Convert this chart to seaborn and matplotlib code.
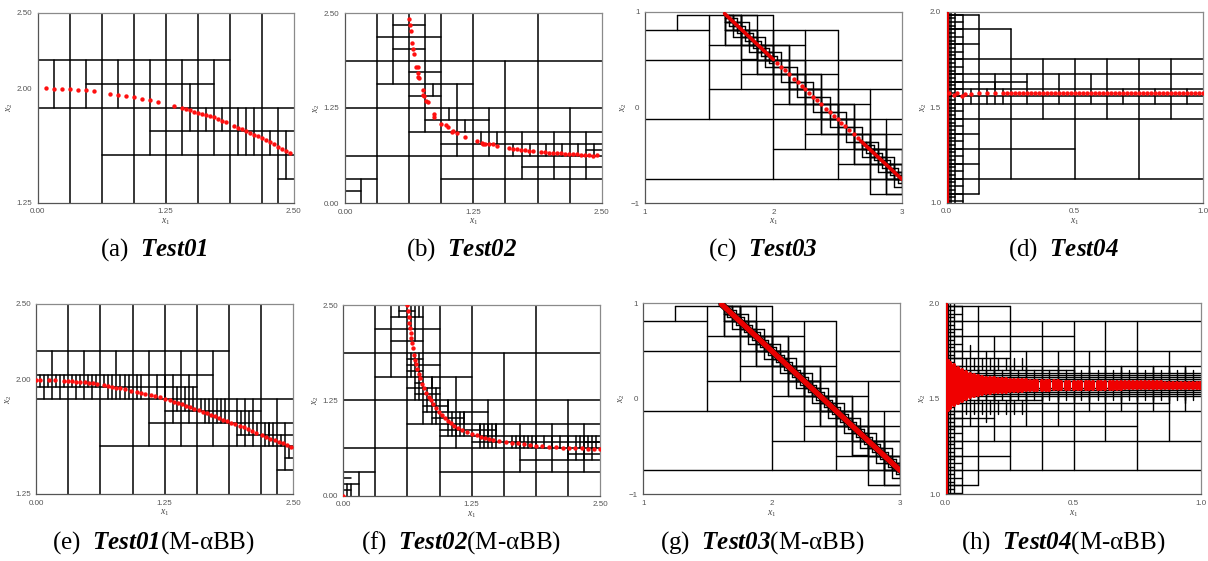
#!/usr/bin/env python3

import pandas as pd
import matplotlib.pyplot as plt
import seaborn as sns

# --- box edges and solution points ---
# hlines: (y, x0, x1), vlines: (x, y0, y1), rows: (y0, y1, [x, ...])

A_HLINES = [(2.1875, 0, 1.875), (2.03125, 0.469, 1.719), (1.875, 0, 2.5), (1.71875, 1.094, 2.5),
            (1.5625, 0.625, 2.5), (1.40625, 2.344, 2.5)]
A_VLINES = [(0.3125, 1.25, 2.5), (0.625, 1.25, 2.5), (0.9375, 1.25, 2.5), (1.25, 1.25, 2.5),
            (1.5625, 1.25, 2.5), (1.875, 1.25, 2.5), (2.1875, 1.25, 2.5), (2.344, 1.25, 1.875),
            (1.094, 1.5625, 2.1875), (1.406, 1.5625, 2.1875), (1.719, 1.5625, 2.1875),
            (1.484, 1.719, 2.031), (2.422, 1.406, 1.719)]
A_ROWS = [(1.875, 2.1875, [0.156, 0.469, 0.781]),
          (1.719, 1.875, [1.641, 1.797]),
          (1.5625, 1.875, [1.953, 2.031, 2.109]),
          (1.5625, 1.719, [2.266])]
A_X = [0.08, 0.156, 0.234, 0.3125, 0.39, 0.469, 0.55, 0.703, 0.781, 0.859, 0.9375, 1.016, 1.094, 1.172,
       1.328, 1.406, 1.445, 1.484, 1.523, 1.5625, 1.60, 1.64, 1.68, 1.719, 1.758, 1.797, 1.836, 1.914,
       1.953, 1.992, 2.03, 2.07, 2.11, 2.148, 2.1875, 2.227, 2.266, 2.305, 2.344, 2.383, 2.42, 2.46]
A_Y = [2.002, 2.0, 2.0, 1.996, 1.993, 1.989, 1.982, 1.967, 1.96, 1.954, 1.943, 1.934, 1.923, 1.914,
       1.886, 1.875, 1.866, 1.857, 1.849, 1.842, 1.836, 1.827, 1.818, 1.811, 1.80, 1.79, 1.778, 1.757,
       1.743, 1.732, 1.721, 1.71, 1.697, 1.686, 1.673, 1.66, 1.647, 1.634, 1.618, 1.605, 1.592, 1.577]

B_HLINES = [(2.1875, 0.3125, 0.9375), (2.344, 0.469, 0.781), (2.031, 0.469, 0.781), (1.875, 0, 2.5),
            (1.719, 0.625, 0.9375), (1.5625, 0.3125, 1.25), (1.406, 0.625, 0.9375), (1.25, 0, 2.5),
            (1.094, 0.781, 1.406), (0.9375, 0.625, 2.5), (0.781, 0.9375, 2.5), (0.703, 2.344, 2.5),
            (0.625, 0, 2.5), (0.469, 1.719, 2.5), (0.3125, 0, 0.3125), (0.3125, 0.9375, 2.5),
            (0.156, 0, 0.156)]
B_VLINES = [(0.156, 0, 0.3125), (0.3125, 0, 2.5), (0.469, 1.5625, 2.5), (0.625, 0, 2.5),
            (0.781, 0.9375, 2.5), (0.9375, 0, 2.5), (1.094, 0.625, 1.5625), (1.25, 0, 2.5),
            (1.172, 0.9375, 1.094), (1.016, 1.094, 1.25), (0.859, 1.406, 1.5625), (1.406, 0.625, 1.25),
            (1.328, 0.781, 0.9375), (1.484, 0.781, 0.9375), (1.5625, 0, 1.875), (1.719, 0.3125, 0.9375),
            (1.875, 0, 2.5), (2.031, 0.3125, 0.9375), (2.1875, 0, 1.25), (2.344, 0.3125, 0.9375)]
B_ROWS = [(0.625, 0.781, [1.641, 1.797, 1.953, 2.109, 2.266, 2.422])]
B_X = [0.623, 0.633, 0.64, 0.656, 0.666, 0.669, 0.695, 0.708, 0.708, 0.711, 0.721, 0.757, 0.763, 0.773,
       0.786, 0.805, 0.87, 0.87, 0.938, 0.981, 1.003, 1.046, 1.055, 1.091, 1.172, 1.289, 1.331, 1.341,
       1.364, 1.403, 1.442, 1.481, 1.601, 1.64, 1.679, 1.718, 1.757, 1.796, 1.835, 1.912, 1.951, 1.99,
       2.029, 2.068, 2.107, 2.146, 2.185, 2.224, 2.263, 2.302, 2.341, 2.38, 2.419, 2.458]
B_Y = [2.42, 2.347, 2.268, 2.11, 2.032, 1.958, 1.792, 1.792, 1.717, 1.656, 1.639, 1.481, 1.42, 1.412,
       1.337, 1.324, 1.171, 1.132, 1.04, 1.023, 1.001, 0.935, 0.948, 0.926, 0.865, 0.822, 0.795, 0.778,
       0.782, 0.778, 0.778, 0.752, 0.725, 0.717, 0.708, 0.699, 0.695, 0.69, 0.682, 0.677, 0.669, 0.664,
       0.66, 0.656, 0.656, 0.647, 0.647, 0.642, 0.642, 0.638, 0.634, 0.629, 0.625, 0.629]

# large boxes shared by Test03 panels
C_HLINES = [(0.969, 1.25, 2), (0.8125, 1, 1.5), (0.8125, 2, 2.5), (0.5, 1, 3), (0.1875, 1.5, 3),
            (-0.125, 1, 3), (-0.4375, 2, 2.5), (-0.4375, 2.75, 3), (-0.75, 1, 3), (-0.906, 2.75, 3),
            (0.656, 1.5, 1.75), (0.344, 1.75, 2), (0.031, 2, 2.25), (-0.281, 2.25, 2.5), (-0.594, 2.5, 2.75),
            (0.656, 2, 2.25), (0.344, 2.25, 2.5), (0.031, 2.5, 2.75), (-0.281, 2.75, 3)]
C_VLINES = [(1.25, 0.8125, 0.969), (1.5, -0.125, 0.969), (2, -0.75, 0.969), (1.75, 0.1875, 0.969),
            (2.25, -0.4375, 0.8125), (2.5, -0.75, 0.8125), (2.75, -0.906, 0.1875), (2.875, -0.906, -0.125),
            (1.625, 0.656, 0.969), (1.875, 0.344, 0.656), (2.125, 0.031, 0.344), (2.375, -0.281, 0.031),
            (2.625, -0.594, -0.281), (2.125, 0.5, 0.656), (2.375, 0.1875, 0.344), (2.625, -0.125, 0.031)]
STAIR1_X = [1.625, 1.75, 1.875, 2, 2.125, 2.25, 2.375, 2.5, 2.625, 2.75, 2.875]
STAIR1_Y = [0.969, 0.813, 0.656, 0.5, 0.344, 0.188, 0.031, -0.125, -0.281, -0.438, -0.594]
STAIR2_X = [1.625, 1.6875, 1.75, 1.8125, 1.875, 1.9375, 2, 2.0625, 2.125, 2.1875, 2.25, 2.3125, 2.375,
            2.4375, 2.5, 2.5625, 2.625, 2.6875, 2.75, 2.8125, 2.875, 2.9375]
STAIR2_Y = [0.969, 0.891, 0.813, 0.734, 0.656, 0.578, 0.5, 0.422, 0.344, 0.266, 0.188, 0.109, 0.031,
            -0.047, -0.125, -0.203, -0.281, -0.359, -0.438, -0.516, -0.594, -0.672]
STAIR3_X = [1.625, 1.656, 1.688, 1.719, 1.75, 1.781, 1.813, 1.844, 1.875, 1.906, 1.938, 1.969, 2, 2.031,
            2.063, 2.094, 2.125, 2.156, 2.188, 2.219, 2.25, 2.281, 2.313, 2.344, 2.375, 2.406, 2.438,
            2.469, 2.5, 2.531, 2.563, 2.594, 2.625, 2.656, 2.688, 2.719, 2.75, 2.781, 2.813, 2.844,
            2.875, 2.906, 2.938, 2.969]
STAIR3_Y = [0.969, 0.93, 0.891, 0.852, 0.813, 0.773, 0.734, 0.695, 0.656, 0.617, 0.578, 0.539, 0.5, 0.461,
            0.422, 0.383, 0.344, 0.305, 0.266, 0.227, 0.188, 0.148, 0.109, 0.07, 0.031, -0.008, -0.047,
            -0.086, -0.125, -0.164, -0.203, -0.242, -0.281, -0.32, -0.359, -0.398, -0.438, -0.477,
            -0.516, -0.555, -0.594, -0.633, -0.672, -0.711]
C_X = [2.03, 2.06, 2.09, 2.125, 2.16, 2.19, 2.22, 2.25, 2.28, 2.31, 2.34, 2.375, 2.41, 2.44, 2.47, 2.5,
       2.53, 2.56, 2.59, 2.625, 2.66]
C_Y = [0.4625, 0.425, 0.3875, 0.344, 0.3, 0.2625, 0.225, 0.1875, 0.15, 0.1125, 0.075, 0.031, -0.0125,
       -0.05, -0.0875, -0.125, -0.1625, -0.2, -0.2375, -0.281, -0.325]
C_LINE1_X = [1.62, 2.0]
C_LINE1_Y = [0.98, 0.5]
C_LINE2_X = [2.68, 3.0]
C_LINE2_Y = [-0.35, -0.75]
G_LINE_X = [1.61, 3.0]
G_LINE_Y = [0.99, -0.75]

# thin rows hugging x1 = 0 in the Test04 panels
NARROW_Y1 = [1.008, 1.047, 1.086, 1.125, 1.164, 1.203, 1.242, 1.281, 1.32, 1.359, 1.398, 1.4375, 1.477,
             1.516, 1.555, 1.594, 1.633, 1.672, 1.711, 1.75, 1.789, 1.828, 1.867, 1.906, 1.945, 1.984]
NARROW_Y2 = [1.027, 1.066, 1.105, 1.145, 1.184, 1.223, 1.262, 1.301, 1.34, 1.379, 1.418, 1.457, 1.496,
             1.535, 1.574, 1.613, 1.652, 1.691, 1.73, 1.77, 1.809, 1.848, 1.887, 1.926, 1.965]

D_HLINES = [(1.984, 0, 0.125), (1.906, 0, 0.25), (1.828, 0, 0.125), (1.75, 0, 1), (1.672, 0, 1),
            (1.633, 0, 0.3125), (1.594, 0, 1), (1.555, 0, 1), (1.516, 0, 1), (1.4375, 0, 1),
            (1.359, 0, 0.125), (1.281, 0, 0.5), (1.203, 0, 0.125), (1.125, 0, 1), (1.047, 0, 0.125)]
D_VLINES = [(0.125, 1.047, 1.984), (0.25, 1.125, 1.906), (0.5, 1.125, 1.75), (0.75, 1.125, 1.75),
            (0.375, 1.4375, 1.75), (0.625, 1.4375, 1.75), (0.875, 1.4375, 1.75), (0.0625, 1, 1.984),
            (0.031, 1, 2), (0.016, 1, 2), (0.008, 1, 2)]
D_ROWS = [(1.516, 1.672, [0.1875, 0.3125, 0.4375, 0.5625]),
          (1.516, 1.594, [0.6875, 0.8125, 0.9375, 0.094, 0.156, 0.219]),
          (1.594, 1.633, [0.1875])]
D_X = [0.01, 0.03, 0.04, 0.06, 0.07, 0.095, 0.125, 0.156, 0.188, 0.22, 0.234, 0.25, 0.266, 0.281, 0.297,
       0.3125, 0.328, 0.344, 0.359, 0.375, 0.391, 0.406, 0.422, 0.4375, 0.453, 0.469, 0.484, 0.5, 0.516,
       0.531, 0.547, 0.5625, 0.578, 0.594, 0.609, 0.625, 0.641, 0.656, 0.672, 0.6875, 0.703, 0.719, 0.734,
       0.75, 0.766, 0.781, 0.797, 0.8125, 0.828, 0.844, 0.859, 0.875, 0.891, 0.906, 0.922, 0.9375, 0.953,
       0.969, 0.984, 1.0]
D_Y = [1.571, 1.562, 1.571, 1.559, 1.57, 1.57] + [1.571] * 54
EDGE_X = [0.004, 0.004]
EDGE_Y = [1.0, 2.0]

E_HLINES = [(2.1875, 0, 1.875), (2.03125, 0, 1.719), (1.953, 0, 1.5625), (1.875, 0, 2.5), (1.797, 1.25, 2.1875),
            (1.71875, 1.094, 2.5), (1.64, 1.953, 2.5), (1.5625, 0.625, 2.5), (1.484, 2.422, 2.5),
            (1.406, 2.344, 2.5)]
E_VLINES = [(0.3125, 1.25, 2.5), (0.625, 1.25, 2.5), (0.9375, 1.25, 2.5), (1.25, 1.25, 2.5),
            (1.5625, 1.25, 2.5), (1.875, 1.25, 2.5), (2.1875, 1.25, 2.5), (2.344, 1.25, 1.875),
            (0.156, 1.875, 2.1875), (0.469, 1.875, 2.1875), (0.781, 1.875, 2.1875),
            (1.094, 1.5625, 2.1875), (1.406, 1.5625, 2.1875), (1.719, 1.5625, 2.1875),
            (2.422, 1.406, 1.719), (2.461, 1.484, 1.5625)]
E_ROWS = [(1.953, 2.031, [0.039, 0.078, 0.117, 0.195, 0.234, 0.273, 0.352, 0.391, 0.43, 0.508, 0.547, 0.586,
                          0.664, 0.703, 0.742, 0.82, 0.859, 0.898, 0.977, 1.016, 1.172, 1.25, 1.328, 1.484]),
          (1.875, 1.953, [0.078, 0.234, 0.391, 0.547, 0.703, 0.742, 0.82, 0.859, 0.898, 0.977, 1.016, 1.172,
                          1.25, 1.328, 1.367, 1.445, 1.484, 1.523]),
          (1.797, 1.875, [1.328, 1.367, 1.445, 1.484, 1.523, 1.602, 1.641, 1.68, 1.758, 1.797, 1.836, 1.953,
                          2.031, 2.109]),
          (1.719, 1.797, [1.328, 1.484, 1.641, 1.68, 1.758, 1.797, 1.836, 1.953, 1.992, 2.031, 2.07, 2.109]),
          (1.5625, 1.719, [1.953, 2.031, 2.109, 2.266]),
          (1.64, 1.719, [1.992, 2.07, 2.148, 2.227, 2.266, 2.305]),
          (1.5625, 1.64, [2.227, 2.305, 2.383])]
E_X = [0, 0.04, 0.12, 0.18, 0.27, 0.31, 0.35, 0.39, 0.43, 0.47, 0.51, 0.55, 0.59, 0.66, 0.70, 0.74, 0.78, 0.82,
       0.86, 0.92, 0.98, 1.02, 1.06, 1.12, 1.16, 1.2, 1.25, 1.3, 1.34, 1.38, 1.42, 1.46, 1.5, 1.54, 1.58, 1.62,
       1.66, 1.7, 1.74, 1.78, 1.82, 1.86, 1.9, 1.94, 1.98, 2.02, 2.06, 2.1, 2.14, 2.2, 2.24, 2.28, 2.32, 2.36,
       2.4, 2.44, 2.48]
E_Y = [2.0, 2.0, 2.0, 2.0, 1.995, 1.994, 1.991, 1.99, 1.987, 1.984, 1.98, 1.978, 1.975, 1.965, 1.96, 1.955, 1.95,
       1.945, 1.94, 1.93, 1.92, 1.913, 1.907, 1.9, 1.892, 1.885, 1.875, 1.866, 1.857, 1.85, 1.84, 1.83, 1.82,
       1.81, 1.8, 1.79, 1.78, 1.77, 1.76, 1.75, 1.74, 1.73, 1.72, 1.71, 1.70, 1.69, 1.675, 1.665, 1.65, 1.635,
       1.625, 1.615, 1.605, 1.595, 1.585, 1.575, 1.56]

F_HLINES = B_HLINES + [(2.422, 0.547, 0.703), (1.797, 0.625, 0.781), (1.64, 0.625, 0.781), (1.484, 0.703, 0.781),
                       (1.328, 0.703, 0.9375), (1.172, 0.781, 1.016), (1.016, 0.859, 1.172),
                       (0.859, 0.9375, 1.484), (0.703, 1.25, 2.5), (0.547, 2.188, 2.5), (0.234, 0, 0.078),
                       (0.078, 0, 0.078)]
F_VLINES = B_VLINES
F_ROWS = [(2.344, 2.5, [0.547, 0.664, 0.703, 0.742]),
          (2.1875, 2.344, [0.664, 0.703]),
          (2.031, 2.1875, [0.703]),
          (1.5625, 1.875, [0.664, 0.703, 0.742]),
          (1.406, 1.5625, [0.703, 0.742, 0.859]),
          (1.25, 1.406, [0.703, 0.742, 0.82, 0.859, 0.898]),
          (1.094, 1.25, [0.82, 0.859, 0.898, 1.016]),
          (0.9375, 1.094, [0.859, 0.898, 1.016, 1.055, 1.133, 1.172]),
          (0.781, 0.9375, [1.016, 1.055, 1.094, 1.133, 1.172, 1.328, 1.367, 1.406, 1.445, 1.484]),
          (0.625, 0.781, [1.328, 1.367, 1.445, 1.484, 1.641, 1.68, 1.719, 1.758, 1.797, 1.836, 1.875, 1.953,
                          2.031, 2.109, 2.188, 2.266, 2.305, 2.344, 2.383, 2.422, 2.461]),
          (0.469, 0.625, [2.188, 2.266, 2.344, 2.422]),
          (0, 0.156, [0.078, 0.039])]
F_X = [0.0, 0.625, 0.63, 0.635, 0.64, 0.648, 0.655, 0.66, 0.668, 0.675, 0.69, 0.70, 0.71, 0.72, 0.735, 0.75, 0.77,
       0.79, 0.81, 0.83, 0.85, 0.875, 0.90, 0.93, 0.96, 0.99, 1.02, 1.05, 1.08, 1.12, 1.16, 1.20, 1.25, 1.30, 1.34,
       1.38, 1.42, 1.46, 1.52, 1.58, 1.64, 1.70, 1.76, 1.82, 1.88, 1.94, 2.0, 2.07, 2.14, 2.2, 2.26, 2.32, 2.38,
       2.44, 2.5]
F_Y = [0.0, 2.5, 2.42, 2.34, 2.27, 2.2, 2.13, 2.07, 2.0, 1.93, 1.85, 1.78, 1.72, 1.66, 1.6, 1.54, 1.47, 1.41, 1.35,
       1.3, 1.25, 1.2, 1.15, 1.1, 1.06, 1.02, 0.985, 0.95, 0.92, 0.89, 0.86, 0.835, 0.81, 0.79, 0.775, 0.76, 0.745,
       0.735, 0.72, 0.705, 0.695, 0.685, 0.675, 0.665, 0.655, 0.648, 0.64, 0.635, 0.63, 0.627, 0.624, 0.62, 0.617,
       0.614, 0.61]

H_X_MID = [0.125, 0.1875, 0.25, 0.3125, 0.375, 0.4375, 0.5, 0.5625, 0.625, 0.6875, 0.75, 0.8125, 0.875, 0.9375]
H_X_FINE = [0.094, 0.125, 0.156, 0.1875, 0.219, 0.25, 0.281, 0.3125, 0.344, 0.375, 0.406, 0.4375, 0.469, 0.5,
            0.531, 0.5625, 0.594, 0.625, 0.656, 0.6875, 0.719, 0.75, 0.781, 0.8125, 0.844, 0.875, 0.906, 0.9375,
            0.969]
H_X_LEFT = [0.078, 0.109, 0.141, 0.172, 0.203, 0.234, 0.266, 0.297]
H_HLINES = [(1.984, 0, 0.25), (1.906, 0, 1), (1.828, 0, 0.5), (1.75, 0, 1), (1.711, 0, 0.25), (1.672, 0, 1),
            (1.652, 0, 0.5), (1.633, 0, 1), (1.623, 0, 1), (1.613, 0, 1), (1.603, 0, 1), (1.594, 0, 1),
            (1.555, 0, 1), (1.545, 0, 1), (1.535, 0, 1), (1.525, 0, 1), (1.516, 0, 1),
            (1.496, 0, 0.375), (1.477, 0, 0.875), (1.4375, 0, 1), (1.398, 0, 0.1875), (1.359, 0, 0.75),
            (1.281, 0, 1), (1.203, 0, 0.25), (1.125, 0, 1), (1.047, 0, 0.125)]
H_VLINES = [(0.125, 1.047, 1.984), (0.25, 1.125, 1.984), (0.375, 1.125, 1.906), (0.5, 1.125, 1.906),
            (0.625, 1.281, 1.906), (0.75, 1.125, 1.906), (0.875, 1.281, 1.75), (0.1875, 1.281, 1.828),
            (0.3125, 1.359, 1.75), (0.4375, 1.359, 1.75), (0.5625, 1.4375, 1.75), (0.6875, 1.4375, 1.672),
            (0.8125, 1.4375, 1.672), (0.9375, 1.4375, 1.672), (0.0625, 1, 1.984), (0.094, 1.36, 1.78),
            (0.156, 1.38, 1.75), (0.031, 1, 2), (0.016, 1, 2), (0.008, 1, 2)]
H_ROWS = [(1.633, 1.672, H_X_MID), (1.477, 1.516, H_X_MID),
          (1.594, 1.652, H_X_FINE), (1.496, 1.555, H_X_FINE),
          (1.652, 1.711, H_X_LEFT), (1.42, 1.496, H_X_LEFT)]
H_BAR_X = [0.008, 0.016, 0.031, 0.047, 0.0625, 0.078, 0.094, 0.109, 0.125, 0.141, 0.156, 0.172, 0.1875, 0.203,
           0.219, 0.234, 0.25, 0.266, 0.281, 0.297, 0.3125, 0.328, 0.344, 0.359, 0.375, 0.391, 0.406, 0.422,
           0.4375, 0.453, 0.469, 0.484, 0.5, 0.516, 0.531, 0.547, 0.5625, 0.578, 0.594, 0.609, 0.625, 0.641,
           0.656, 0.672, 0.6875, 0.703, 0.719, 0.734, 0.75, 0.766, 0.781, 0.797, 0.8125, 0.828, 0.844, 0.859,
           0.875, 0.891, 0.906, 0.922, 0.9375, 0.953, 0.969, 0.984, 0.996]
H_BAR_LO = [1.44, 1.45, 1.465, 1.48, 1.49, 1.50, 1.508, 1.515, 1.522, 1.526, 1.529, 1.531, 1.533, 1.535, 1.537,
            1.538, 1.54, 1.541, 1.542, 1.543, 1.544, 1.545, 1.546, 1.547, 1.547, 1.548, 1.548, 1.549, 1.549,
            1.55, 1.55, 1.55, 1.551, 1.551, 1.551, 1.552, 1.552, 1.552, 1.552, 1.553, 1.553, 1.553, 1.553,
            1.553, 1.553, 1.554, 1.554, 1.554, 1.554, 1.554, 1.554, 1.554, 1.554, 1.554, 1.554, 1.555, 1.555,
            1.555, 1.555, 1.555, 1.555, 1.555, 1.555, 1.555, 1.555]
H_BAR_HI = [1.70, 1.69, 1.675, 1.66, 1.65, 1.64, 1.632, 1.625, 1.618, 1.614, 1.611, 1.609, 1.607, 1.605, 1.603,
            1.602, 1.60, 1.599, 1.598, 1.597, 1.596, 1.595, 1.594, 1.593, 1.593, 1.592, 1.592, 1.591, 1.591,
            1.59, 1.59, 1.59, 1.589, 1.589, 1.589, 1.588, 1.588, 1.588, 1.588, 1.587, 1.587, 1.587, 1.587,
            1.587, 1.587, 1.586, 1.586, 1.586, 1.586, 1.586, 1.586, 1.586, 1.586, 1.586, 1.586, 1.585, 1.585,
            1.585, 1.585, 1.585, 1.585, 1.585, 1.585, 1.585, 1.585]

TICKS_25 = [0.0, 1.25, 2.5]
LABELS_25 = ["0.00", "1.25", "2.50"]
YTICKS_A = [1.25, 2.0, 2.5]
YLABELS_A = ["1.25", "2.00", "2.50"]
TICKS_C_X = [1, 2, 3]
TICKS_C_Y = [-1, 0, 1]
LABELS_C_Y = ["\u22121", "0", "1"]
TICKS_D_X = [0.0, 0.5, 1.0]
TICKS_D_Y = [1.0, 1.5, 2.0]
LABELS_D_X = ["0.0", "0.5", "1.0"]
LABELS_D_Y = ["1.0", "1.5", "2.0"]

CAPTIONS = ["(a)  $\\mathbfit{Test01}$", "(b)  $\\mathbfit{Test02}$", "(c)  $\\mathbfit{Test03}$",
            "(d)  $\\mathbfit{Test04}$", "(e)  $\\mathbfit{Test01}$(M-\u03b1BB)",
            "(f)  $\\mathbfit{Test02}$(M-\u03b1BB)", "(g)  $\\mathbfit{Test03}$(M-\u03b1BB)",
            "(h)  $\\mathbfit{Test04}$(M-\u03b1BB)"]

W, H = 1208, 561

sns.set_theme(style="white")
plt.rcParams["font.family"] = ["Liberation Sans", "DejaVu Sans"]
plt.rcParams["mathtext.fontset"] = "custom"
plt.rcParams["mathtext.rm"] = "Liberation Serif"
plt.rcParams["mathtext.it"] = "Liberation Serif:italic"
plt.rcParams["mathtext.bf"] = "Liberation Serif:bold"
plt.rcParams["mathtext.bfit"] = "Liberation Serif:italic:bold"


def stair_boxes(xs, ys, w, h, keep=None):
    """Diagonal cells plus the two neighbours touching the curve at their corner."""
    boxes = []
    for x, y in zip(xs, ys):
        if keep is not None and not keep(x):
            continue
        boxes += [(x, x + w, y - h, y), (x + w, x + 2 * w, y - h, y), (x, x + w, y - 2 * h, y - h)]
    return boxes


def segments(hlines=(), vlines=(), rows=(), boxes=()):
    recs = []
    sid = 0

    def add(x0, y0, x1, y1):
        nonlocal sid
        recs.append((sid, x0, y0))
        recs.append((sid, x1, y1))
        sid += 1

    for y, x0, x1 in hlines:
        add(x0, y, x1, y)
    for x, y0, y1 in vlines:
        add(x, y0, x, y1)
    for y0, y1, xs in rows:
        for x in xs:
            add(x, y0, x, y1)
    for x0, x1, y0, y1 in boxes:
        add(x0, y0, x1, y0)
        add(x0, y1, x1, y1)
        add(x0, y0, x0, y1)
        add(x1, y0, x1, y1)
    return pd.DataFrame(recs, columns=["seg", "x", "y"])


def draw_lines(ax, df, color="#000000", lw=1.1):
    sns.lineplot(data=df, x="x", y="y", units="seg", estimator=None, sort=False,
                 color=color, linewidth=lw, ax=ax, legend=False, zorder=2)


def draw_points(ax, xs, ys, size=10):
    sns.scatterplot(x=xs, y=ys, color="#ff1010", s=size, linewidth=0, ax=ax, legend=False, zorder=4)


def make_axes(box, xlim, ylim, xticks, xlabels, yticks, ylabels):
    left, right, top, bottom = box
    ax = fig.add_axes([left / W, 1 - bottom / H, (right - left) / W, (bottom - top) / H])
    ax.set_xlim(xlim)
    ax.set_ylim(ylim)
    ax.set_xticks(xticks, xlabels)
    ax.set_yticks(yticks, ylabels)
    ax.tick_params(labelsize=5.8, colors="#555555", length=1.5, width=0.5, pad=2.5)
    ax.set_xlabel("$x_1$", fontsize=7, color="#444444", labelpad=1)
    ax.set_ylabel("$x_2$", fontsize=7, color="#444444", labelpad=1)
    for side in ax.spines:
        ax.spines[side].set_color("#8a8a8a")
        ax.spines[side].set_linewidth(0.9)
    ax.spines["bottom"].set_color("#555555")
    ax.spines["left"].set_color("#555555")
    return ax


fig = plt.figure(figsize=(W / 100, H / 100), dpi=100)

# (a)
ax = make_axes((37.7, 293.7, 12.7, 202.7), (0, 2.5), (1.25, 2.5), TICKS_25, LABELS_25, YTICKS_A, YLABELS_A)
draw_lines(ax, segments(A_HLINES, A_VLINES, A_ROWS))
draw_points(ax, A_X, A_Y)

# (b)
ax = make_axes((345, 601.7, 13, 203), (0, 2.5), (0, 2.5), TICKS_25, LABELS_25, TICKS_25, LABELS_25)
draw_lines(ax, segments(B_HLINES, B_VLINES, B_ROWS))
draw_points(ax, B_X, B_Y)

# (c)
ax = make_axes((645, 901.7, 11.7, 203), (1, 3), (-1, 1), TICKS_C_X, TICKS_C_X, TICKS_C_Y, LABELS_C_Y)
c_boxes = (stair_boxes(STAIR1_X, STAIR1_Y, 0.125, 0.15625)
           + stair_boxes(STAIR2_X, STAIR2_Y, 0.0625, 0.078125)
           + stair_boxes(STAIR3_X, STAIR3_Y, 0.03125, 0.0390625, keep=lambda x: x < 2.0 or x >= 2.68))
draw_lines(ax, segments(C_HLINES, C_VLINES, boxes=c_boxes), lw=1.0)
for xs, ys in ((C_LINE1_X, C_LINE1_Y), (C_LINE2_X, C_LINE2_Y)):
    sns.lineplot(x=xs, y=ys, color="#e80000", linewidth=2.6, ax=ax, legend=False, zorder=4)
draw_points(ax, C_X, C_Y, size=10)

# (d)
ax = make_axes((946.7, 1202.7, 11.5, 202.5), (0, 1), (1, 2), TICKS_D_X, LABELS_D_X, TICKS_D_Y, LABELS_D_Y)
d_hlines = D_HLINES + [(y, 0, 0.0625) for y in NARROW_Y1] + [(y, 0, 0.031) for y in NARROW_Y2]
draw_lines(ax, segments(d_hlines, D_VLINES, D_ROWS))
sns.lineplot(x=EDGE_X, y=EDGE_Y, color="#e80000", linewidth=1.5, ax=ax, legend=False, zorder=4, sort=False,
             estimator=None)
draw_points(ax, D_X, D_Y)

# (e)
ax = make_axes((36.3, 293, 304, 494), (0, 2.5), (1.25, 2.5), TICKS_25, LABELS_25, YTICKS_A, YLABELS_A)
draw_lines(ax, segments(E_HLINES, E_VLINES, E_ROWS))
draw_points(ax, E_X, E_Y)

# (f)
ax = make_axes((343.3, 600, 305, 495.7), (0, 2.5), (0, 2.5), TICKS_25, LABELS_25, TICKS_25, LABELS_25)
draw_lines(ax, segments(F_HLINES, F_VLINES, F_ROWS))
draw_points(ax, F_X, F_Y)

# (g)
ax = make_axes((643.3, 900, 303.3, 494.3), (1, 3), (-1, 1), TICKS_C_X, TICKS_C_X, TICKS_C_Y, LABELS_C_Y)
g_boxes = (stair_boxes(STAIR1_X, STAIR1_Y, 0.125, 0.15625)
           + stair_boxes(STAIR2_X, STAIR2_Y, 0.0625, 0.078125)
           + stair_boxes(STAIR3_X, STAIR3_Y, 0.03125, 0.0390625))
draw_lines(ax, segments(C_HLINES, C_VLINES, boxes=g_boxes), lw=1.0)
sns.lineplot(x=G_LINE_X, y=G_LINE_Y, color="#000000", linewidth=4.8, ax=ax, legend=False, zorder=3)
sns.lineplot(x=G_LINE_X, y=G_LINE_Y, color="#e80000", linewidth=3.9, ax=ax, legend=False, zorder=4)

# (h)
ax = make_axes((945.7, 1201.3, 303.3, 494.3), (0, 1), (1, 2), TICKS_D_X, LABELS_D_X, TICKS_D_Y, LABELS_D_Y)
h_hlines = H_HLINES + [(y, 0, 0.0625) for y in NARROW_Y1] + [(y, 0, 0.031) for y in NARROW_Y2]
draw_lines(ax, segments(h_hlines, H_VLINES, H_ROWS), lw=1.0)
sns.lineplot(x=EDGE_X, y=EDGE_Y, color="#e80000", linewidth=1.5, ax=ax, legend=False, zorder=4, sort=False,
             estimator=None)
bar_df = pd.DataFrame({"seg": list(range(len(H_BAR_X))) * 2, "x": H_BAR_X * 2, "y": H_BAR_LO + H_BAR_HI})
sns.lineplot(data=bar_df, x="x", y="y", units="seg", estimator=None, sort=False, color="#f00000",
             linewidth=3.0, ax=ax, legend=False, zorder=4)

# captions
caption_x = [153.5, 462, 763, 1063, 153, 461, 762, 1063.5]
caption_y = [250, 250, 250, 250, 543, 543, 543, 543]
for txt, cx, cy in zip(CAPTIONS, caption_x, caption_y):
    fig.text(cx / W, 1 - cy / H, txt, ha="center", va="center", fontsize=18, color="black",
             family="Liberation Serif")

plt.savefig("out.png", dpi=100)
